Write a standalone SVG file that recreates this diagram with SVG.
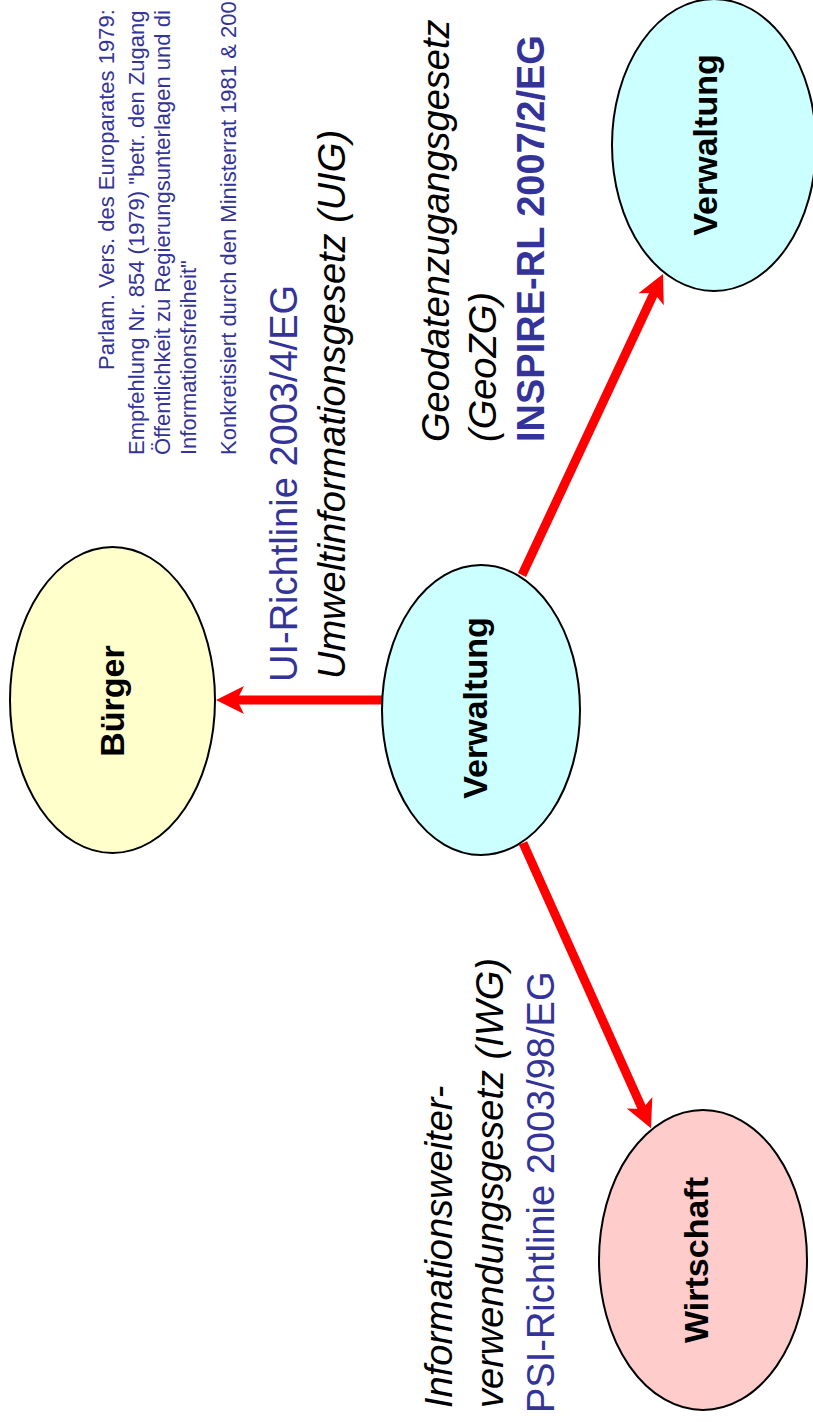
<svg xmlns="http://www.w3.org/2000/svg" width="813" height="1422" viewBox="0 0 813 1422">
  <style>
    .node { stroke: #000; stroke-width: 2; }
    .citizen { fill: #FFFFCC; }
    .admin { fill: #CCFFFF; }
    .business { fill: #FFCCCC; }
    .nlabel { font-family: "Liberation Sans", Arial, sans-serif; font-weight: bold; font-size: 34px; fill: #000; text-anchor: middle; }
    .law { font-family: "Liberation Sans", Arial, sans-serif; font-style: italic; font-size: 38px; fill: #000; }
    .eu { font-family: "Liberation Sans", Arial, sans-serif; font-size: 38px; fill: #333399; }
    .eub { font-family: "Liberation Sans", Arial, sans-serif; font-weight: bold; font-size: 38px; fill: #333399; }
    .note { font-family: "Liberation Sans", Arial, sans-serif; font-size: 22px; fill: #333399; }
    .flow { stroke: #FF0000; stroke-width: 9; fill: none; marker-end: url(#head); }
  </style>
  <defs>
    <marker id="head" markerUnits="userSpaceOnUse" orient="auto" refX="0" refY="0" markerWidth="40" markerHeight="40" overflow="visible">
      <path d="M20,0 L-8,-14 L-1,0 L-8,14 Z" fill="#FF0000"/>
    </marker>
  </defs>
  <rect width="813" height="1422" fill="#FFFFFF"/>

  <!-- connectors: arrows from the central administration -->
  <g id="connectors">
    <line class="flow" x1="382" y1="700" x2="236" y2="700"/>
    <line class="flow" x1="522" y1="575" x2="654.5" y2="292"/>
    <line class="flow" x1="523" y1="843" x2="642.8" y2="1110"/>
  </g>

  <!-- nodes -->
  <g id="node-buerger">
    <ellipse class="node citizen" cx="112.5" cy="700" rx="102.5" ry="153"/>
    <text class="nlabel" transform="translate(124,701) rotate(-90)">Bürger</text>
  </g>
  <g id="node-verwaltung-center">
    <ellipse class="node admin" cx="481" cy="710" rx="99" ry="145"/>
    <text class="nlabel" transform="translate(487,708) rotate(-90)">Verwaltung</text>
  </g>
  <g id="node-verwaltung-right">
    <ellipse class="node admin" cx="714" cy="145" rx="102" ry="146"/>
    <text class="nlabel" transform="translate(717,145) rotate(-90)">Verwaltung</text>
  </g>
  <g id="node-wirtschaft">
    <ellipse class="node business" cx="703" cy="1260" rx="104" ry="150"/>
    <text class="nlabel" transform="translate(708,1260) rotate(-90)">Wirtschaft</text>
  </g>

  <!-- labels: citizen access -->
  <g id="label-ui">
    <text class="eu" transform="translate(297,682) rotate(-90)">UI-Richtlinie 2003/4/EG</text>
    <text class="law" transform="translate(345,679) rotate(-90)">Umweltinformationsgesetz (UIG)</text>
  </g>

  <!-- labels: spatial data access -->
  <g id="label-geo">
    <text class="law" transform="translate(449,442) rotate(-90)">Geodatenzugangsgesetz</text>
    <text class="law" transform="translate(496,442) rotate(-90)">(GeoZG)</text>
    <text class="eub" transform="translate(544,442) rotate(-90)">INSPIRE-RL 2007/2/EG</text>
  </g>

  <!-- labels: re-use of public sector information -->
  <g id="label-psi">
    <text class="law" transform="translate(452,1408) rotate(-90)">Informationsweiter-</text>
    <text class="law" transform="translate(503,1408) rotate(-90)">verwendungsgesetz (IWG)</text>
    <text class="eu" transform="translate(554,1413) rotate(-90)">PSI-Richtlinie 2003/98/EG</text>
  </g>

  <!-- note on the Council of Europe recommendation -->
  <g id="note-europarat">
    <text class="note" transform="translate(114,370) rotate(-90)">Parlam. Vers. des Europarates 1979:</text>
    <text class="note" transform="translate(144,455) rotate(-90)">Empfehlung Nr. 854 (1979) "betr. den Zugang</text>
    <text class="note" transform="translate(170,455) rotate(-90)">Öffentlichkeit zu Regierungsunterlagen und di</text>
    <text class="note" transform="translate(196,455) rotate(-90)">Informationsfreiheit"</text>
    <text class="note" transform="translate(236,455) rotate(-90)">Konkretisiert durch den Ministerrat 1981 &amp; 200</text>
  </g>
</svg>
